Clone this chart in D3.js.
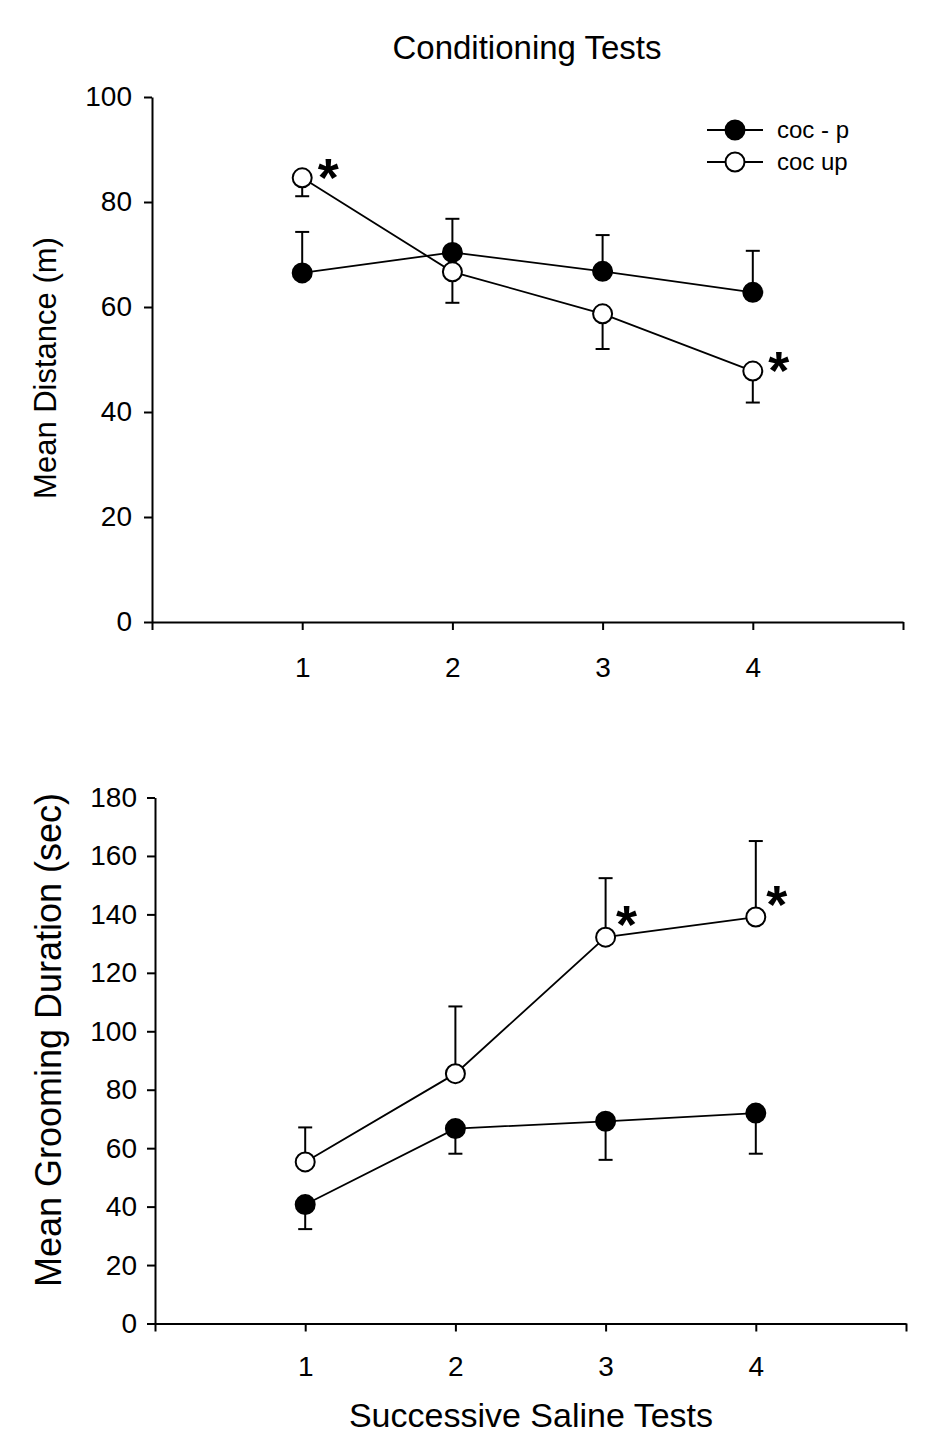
<!DOCTYPE html>
<html><head><meta charset="utf-8">
<script src="https://cdn.jsdelivr.net/npm/d3@7"></script>
<style>
body{margin:0;background:#fff}
svg text{font-family:Arial,"Liberation Sans",sans-serif;fill:#000}
</style>
</head><body>
<svg id="c" width="941" height="1452"></svg>
<script>
// ---- data ----
const tests = [1, 2, 3, 4];
const seriesNames = ["coc - p", "coc up"];

// Mean distance (m)
const distCocP = [66.5, 70.4, 66.8, 62.8];
const distCocPSem = [7.8, 6.4, 6.9, 7.9];      // drawn upward
const distCocUp = [84.6, 66.7, 58.7, 47.8];
const distCocUpSem = [3.5, 5.9, 6.7, 6.0];     // drawn downward
const distTicks = [0, 20, 40, 60, 80, 100];
const distStars = [1, 4];                      // coc up significant

// Mean grooming duration (sec)
const groomCocP = [40.7, 66.7, 69.2, 72.0];
const groomCocPSem = [8.4, 8.6, 13.2, 13.9];   // drawn downward
const groomCocUp = [55.3, 85.5, 132.2, 139.1];
const groomCocUpSem = [11.8, 23.0, 20.2, 26.0];// drawn upward
const groomTicks = [0, 20, 40, 60, 80, 100, 120, 140, 160, 180];
const groomStars = [3, 4];

const xTicks = [0, 1, 2, 3, 4, 5];

// ---- drawing ----
const svg = d3.select("#c");

function panel(cfg) {
  const x = d3.scaleLinear().domain([0, 5]).range([cfg.left, cfg.right]);
  const y = d3.scaleLinear().domain([0, cfg.ymax]).range([cfg.bottom, cfg.top]);
  const g = svg.append("g");

  const yAxis = g.append("g").attr("transform", `translate(${cfg.left},0)`)
    .call(d3.axisLeft(y).tickValues(cfg.yTicks).tickSize(8).tickSizeOuter(0).tickPadding(cfg.yPad));
  const xAxis = g.append("g").attr("transform", `translate(0,${cfg.bottom})`)
    .call(d3.axisBottom(x).tickValues(xTicks).tickSize(8).tickSizeOuter(0).tickPadding(cfg.xPad)
      .tickFormat(d => (d >= 1 && d <= 4) ? d : ""));
  [yAxis, xAxis].forEach(a => {
    a.select(".domain").attr("stroke", "#000").attr("stroke-width", 2);
    a.selectAll(".tick line").attr("stroke", "#000").attr("stroke-width", 2);
    a.selectAll(".tick text").attr("font-size", 28).attr("fill", "#000")
      .style("font-family", "Arial, 'Liberation Sans', sans-serif");
  });

  const line = d3.line().x((d, i) => x(tests[i])).y(d => y(d));

  cfg.series.forEach(s => {
    g.append("path").datum(s.values).attr("d", line)
      .attr("fill", "none").attr("stroke", "#000").attr("stroke-width", 1.8);
  });
  cfg.series.forEach(s => {
    const eb = g.append("g");
    s.values.forEach((v, i) => {
      const end = v + s.dir * s.sem[i];
      const cx = x(tests[i]);
      eb.append("line").attr("x1", cx).attr("x2", cx).attr("y1", y(v)).attr("y2", y(end))
        .attr("stroke", "#000").attr("stroke-width", 2);
      eb.append("line").attr("x1", cx - 7).attr("x2", cx + 7).attr("y1", y(end)).attr("y2", y(end))
        .attr("stroke", "#000").attr("stroke-width", 2);
    });
  });
  cfg.series.forEach(s => {
    g.append("g").selectAll("circle").data(s.values).join("circle")
      .attr("cx", (d, i) => x(tests[i])).attr("cy", d => y(d)).attr("r", 9.5)
      .attr("fill", s.filled ? "#000" : "#fff").attr("stroke", "#000").attr("stroke-width", 2);
  });
  // significance asterisks next to the coc up points
  const up = cfg.series[1];
  cfg.stars.forEach(t => {
    const i = tests.indexOf(t);
    g.append("text").attr("x", x(t) + cfg.starDx).attr("y", y(up.values[i]) + cfg.starDy)
      .attr("text-anchor", "middle").attr("font-size", 54).attr("font-weight", "bold").text("*");
  });

  g.append("text").attr("transform", `translate(${cfg.ylabX},${cfg.ylabY}) rotate(-90)`)
    .attr("text-anchor", "middle").attr("font-size", cfg.ylabSize).text(cfg.ylabel);
  return {x, y, g};
}

const topPanel = panel({
  left: 152, right: 903, top: 97, bottom: 622, ymax: 100, yTicks: distTicks, xPad: 27, yPad: 12,
  series: [
    {values: distCocP, sem: distCocPSem, dir: 1, filled: true},
    {values: distCocUp, sem: distCocUpSem, dir: -1, filled: false}
  ],
  stars: distStars, starDx: 26, starDy: 18,
  ylabel: "Mean Distance (m)", ylabX: 56, ylabY: 368, ylabSize: 31
});

const botPanel = panel({
  left: 155, right: 906, top: 797.5, bottom: 1323.5, ymax: 180, yTicks: groomTicks, xPad: 25, yPad: 10,
  series: [
    {values: groomCocP, sem: groomCocPSem, dir: -1, filled: true},
    {values: groomCocUp, sem: groomCocUpSem, dir: 1, filled: false}
  ],
  stars: groomStars, starDx: 21, starDy: 6,
  ylabel: "Mean Grooming Duration (sec)", ylabX: 61, ylabY: 1040, ylabSize: 36
});

svg.append("text").attr("x", 527).attr("y", 59).attr("text-anchor", "middle")
  .attr("font-size", 33).text("Conditioning Tests");
svg.append("text").attr("x", 531).attr("y", 1427).attr("text-anchor", "middle")
  .attr("font-size", 34).text("Successive Saline Tests");

// legend
const leg = svg.append("g");
seriesNames.forEach((name, i) => {
  const ly = 130 + i * 32;
  leg.append("line").attr("x1", 707).attr("x2", 763).attr("y1", ly).attr("y2", ly)
    .attr("stroke", "#000").attr("stroke-width", 2);
  leg.append("circle").attr("cx", 735).attr("cy", ly).attr("r", 9.5)
    .attr("fill", i === 0 ? "#000" : "#fff").attr("stroke", "#000").attr("stroke-width", 2);
  leg.append("text").attr("x", 777).attr("y", ly + 8).attr("font-size", 24).text(name);
});
</script>
</body></html>
